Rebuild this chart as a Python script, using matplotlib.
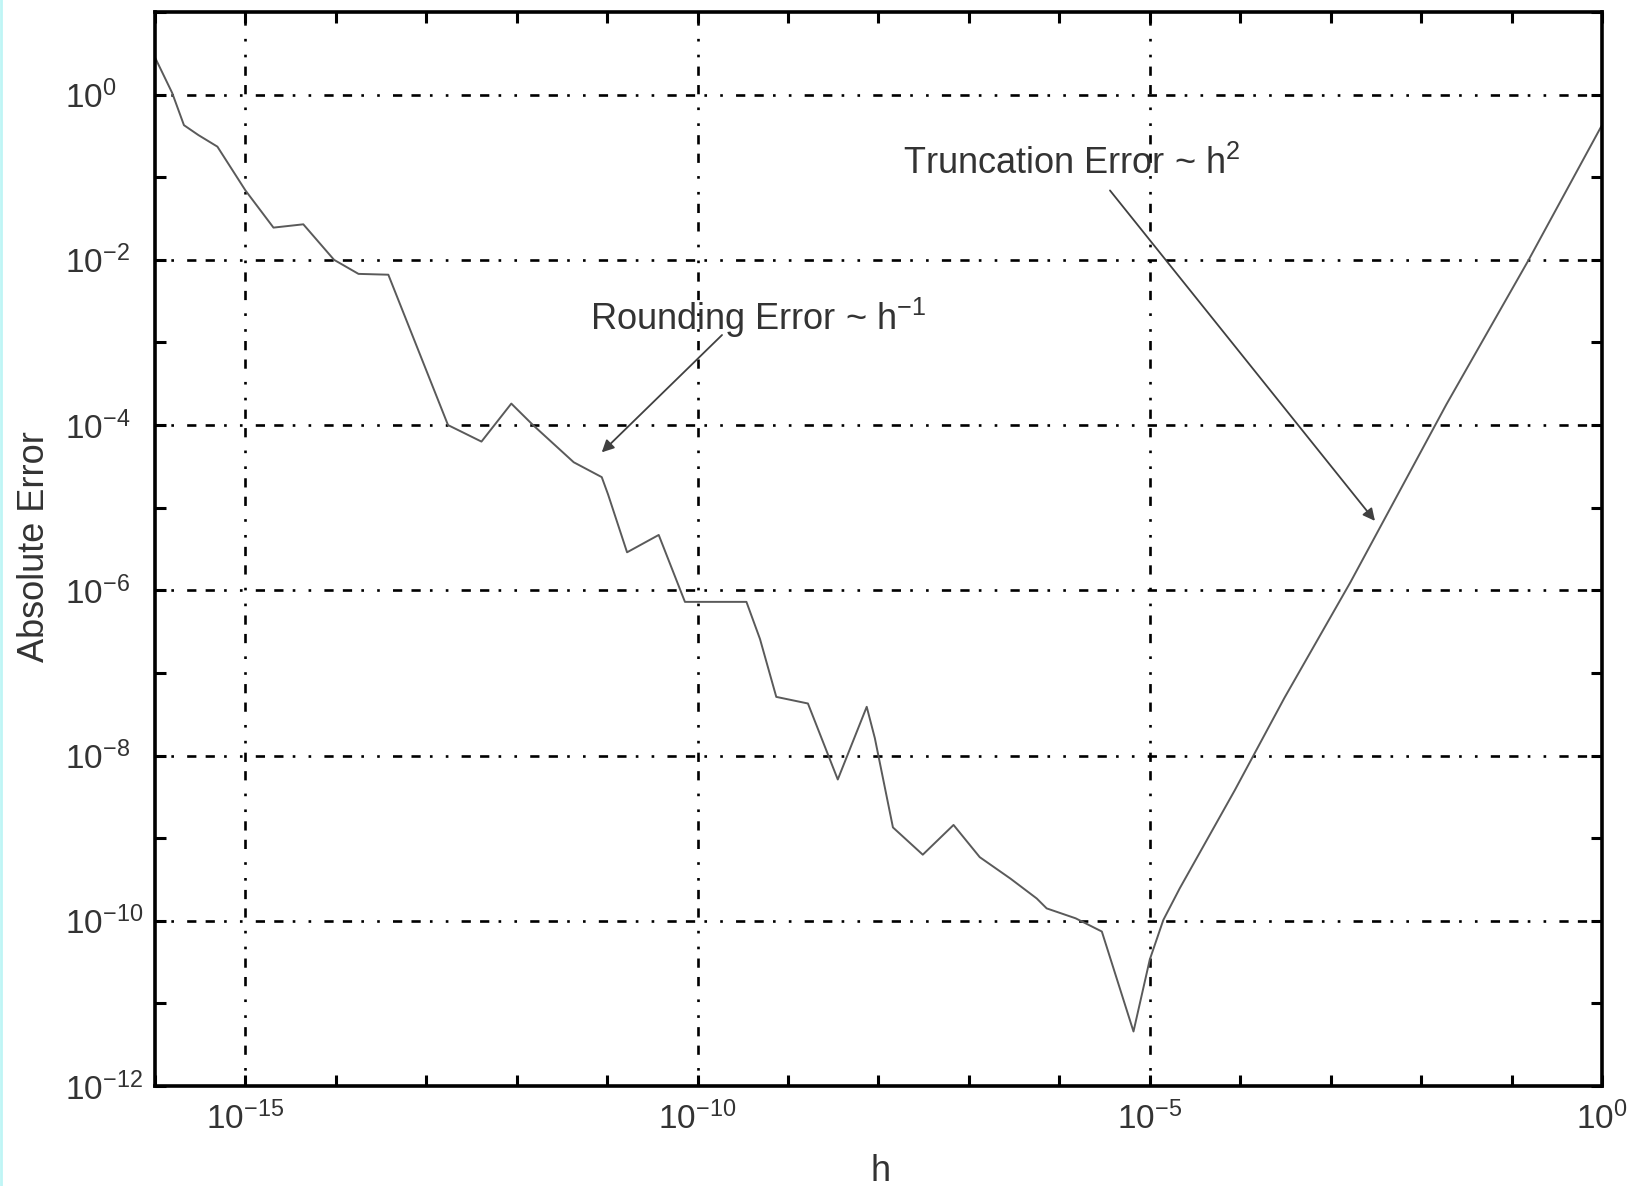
import numpy as np
import matplotlib.pyplot as plt
from matplotlib.lines import Line2D

plt.rcParams['font.family'] = ['Liberation Sans', 'DejaVu Sans']
plt.rcParams['mathtext.fontset'] = 'custom'
plt.rcParams['mathtext.rm'] = 'Liberation Sans'
plt.rcParams['mathtext.it'] = 'Liberation Sans:italic'

# exponents: h = 10**log_h, error = 10**log_err
log_h = [-16.0, -15.81, -15.68, -15.52, -15.31, -15.0, -14.69, -14.36, -14.02, -13.75,
         -13.42, -12.76, -12.39, -12.06, -11.82, -11.37, -11.06, -10.99, -10.78, -10.43,
         -10.14, -9.46, -9.31, -9.13, -8.78, -8.45, -8.13, -8.04, -7.84, -7.51,
         -7.17, -6.88, -6.54, -6.25, -6.14, -5.82, -5.53, -5.18, -5.0, -4.85,
         -4.67, -4.06, -3.51, -2.78, -1.72, -0.81, 0.0]
log_err = [0.45, 0.02, -0.37, -0.49, -0.63, -1.16, -1.61, -1.57, -2.0, -2.17,
           -2.18, -4.0, -4.20, -3.74, -4.0, -4.45, -4.63, -4.84, -5.54, -5.33,
           -6.14, -6.14, -6.59, -7.29, -7.37, -8.29, -7.41, -7.79, -8.87, -9.20,
           -8.84, -9.23, -9.49, -9.73, -9.85, -9.97, -10.13, -11.34, -10.47, -9.99,
           -9.61, -8.42, -7.30, -5.90, -3.75, -2.0, -0.37]

x_major = [-15, -10, -5, 0]
y_major = [0, -2, -4, -6, -8, -10, -12]

round_text = (-11.19, -2.85)
round_arrow = [(-9.73, -2.91), (-11.06, -4.33)]
trunc_text = (-7.73, -0.96)
trunc_arrow = [(-5.44, -1.16), (-2.51, -5.16)]

fig = plt.figure(figsize=(16.42, 11.86), dpi=100)
ax = fig.add_axes([0.0944, 0.0843, 0.8812, 0.9056])

h = 10.0 ** np.array(log_h)
err = 10.0 ** np.array(log_err)
ax.loglog(h, err, c="#5a5a5a", lw=1.4)

ax.set_xlim(1e-16, 1e0)
ax.set_ylim(1e-12, 1e1)

ax.set_xticks([10.0 ** e for e in x_major])
ax.set_xticks([10.0 ** e for e in range(-16, 1) if e not in x_major], minor=True)
ax.set_yticks([10.0 ** e for e in y_major])
ax.set_yticks([10.0 ** e for e in range(-12, 2) if e not in y_major], minor=True)
ax.xaxis.set_minor_formatter(plt.NullFormatter())
ax.yaxis.set_minor_formatter(plt.NullFormatter())

ax.tick_params(which="both", direction="in", top=True, right=True,
               length=8, width=2.2, labelsize=24, colors="k")
ax.tick_params(axis="x", pad=11)
ax.tick_params(axis="y", pad=65)
for lab in ax.get_yticklabels():
    lab.set_horizontalalignment("left")
    lab.set_color("#333333")
for lab in ax.get_xticklabels():
    lab.set_color("#333333")

for s in ax.spines.values():
    s.set_linewidth(2.6)

ax.grid(which="major", c="k", lw=1.9, ls=(0, (1, 5, 1, 5, 3.5, 3.5, 3.5, 3.5)))
ax.grid(which="minor", visible=False)

ax.text(10 ** round_text[0], 10 ** round_text[1], "Rounding Error ~ h$^{-1}$",
        fontsize=26, color="#333333", va="baseline", ha="left")
ax.annotate("", xy=(10 ** round_arrow[1][0], 10 ** round_arrow[1][1]),
            xytext=(10 ** round_arrow[0][0], 10 ** round_arrow[0][1]),
            arrowprops=dict(arrowstyle="-|>", color="#404040", lw=1.3,
                            mutation_scale=18, shrinkA=0, shrinkB=0))
ax.text(10 ** trunc_text[0], 10 ** trunc_text[1], "Truncation Error ~ h$^{2}$",
        fontsize=26, color="#333333", va="baseline", ha="left")
ax.annotate("", xy=(10 ** trunc_arrow[1][0], 10 ** trunc_arrow[1][1]),
            xytext=(10 ** trunc_arrow[0][0], 10 ** trunc_arrow[0][1]),
            arrowprops=dict(arrowstyle="-|>", color="#404040", lw=1.3,
                            mutation_scale=18, shrinkA=0, shrinkB=0))

fig.text(35 / 1642, 1 - 547 / 1186, "Absolute Error", rotation=90,
         ha="center", va="center", fontsize=26, color="#333333")
fig.text(881 / 1642, 5 / 1186, "h", ha="center", va="baseline",
         fontsize=26, color="#333333")

# thin cyan strip on the left edge of the page
fig.add_artist(Line2D([0.0008, 0.0008], [0, 1], transform=fig.transFigure,
                      c="#bff5f5", lw=2))

plt.savefig("out.png", dpi=100)
